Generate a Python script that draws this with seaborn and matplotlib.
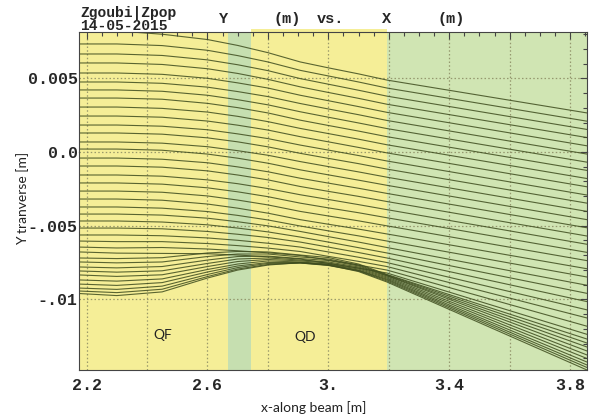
import numpy as np
import pandas as pd
import matplotlib
matplotlib.use("Agg")
import matplotlib.pyplot as plt
import matplotlib.ticker as mticker
from matplotlib.patches import Rectangle
import seaborn as sns

# ---------------- data ----------------
# stations along the beam [m]
x_stations = [2.175, 2.30, 2.45, 2.60, 2.70, 2.80, 2.907, 3.00, 3.10, 3.194, 3.856]

# regularly spaced trajectories, Y [mm] at each station
upper_traj_mm = [
    [8.21, 8.21, 7.99, 7.63, 7.23, 6.74, 6.11, 5.71, 5.30, 4.88, 2.65],
    [7.33, 7.33, 7.22, 6.90, 6.54, 6.11, 5.54, 5.16, 4.75, 4.34, 2.09],
    [6.65, 6.65, 6.55, 6.25, 5.92, 5.52, 4.98, 4.60, 4.19, 3.79, 1.53],
    [6.04, 6.04, 5.94, 5.65, 5.33, 4.93, 4.42, 4.04, 3.64, 3.24, 0.98],
    [5.36, 5.36, 5.27, 5.00, 4.69, 4.34, 3.85, 3.48, 3.08, 2.69, 0.42],
    [4.75, 4.75, 4.66, 4.40, 4.10, 3.76, 3.29, 2.92, 2.53, 2.14, -0.14],
    [4.21, 4.21, 4.12, 3.85, 3.55, 3.20, 2.73, 2.36, 1.97, 1.59, -0.69],
    [3.66, 3.66, 3.58, 3.30, 3.01, 2.65, 2.16, 1.80, 1.42, 1.04, -1.25],
    [3.05, 3.05, 2.96, 2.71, 2.42, 2.06, 1.60, 1.25, 0.87, 0.49, -1.80],
    [2.44, 2.44, 2.36, 2.10, 1.82, 1.49, 1.04, 0.69, 0.31, -0.06, -2.36],
    [1.83, 1.83, 1.75, 1.51, 1.23, 0.91, 0.47, 0.13, -0.24, -0.61, -2.92],
    [1.29, 1.29, 1.21, 0.96, 0.69, 0.35, -0.09, -0.43, -0.79, -1.16, -3.47],
    [0.68, 0.68, 0.60, 0.36, 0.09, -0.22, -0.65, -0.99, -1.35, -1.71, -4.03],
    [0.20, 0.20, 0.12, -0.14, -0.42, -0.76, -1.21, -1.55, -1.91, -2.26, -4.59],
    [-0.41, -0.41, -0.49, -0.73, -1.01, -1.34, -1.78, -2.11, -2.46, -2.81, -5.14],
    [-0.95, -0.95, -1.03, -1.28, -1.56, -1.89, -2.34, -2.67, -3.01, -3.36, -5.70],
    [-1.56, -1.56, -1.64, -1.89, -2.15, -2.48, -2.90, -3.22, -3.57, -3.91, -6.26],
    [-2.10, -2.10, -2.18, -2.43, -2.70, -3.03, -3.47, -3.79, -4.12, -4.46, -6.81],
    [-2.65, -2.65, -2.73, -2.98, -3.26, -3.59, -4.03, -4.34, -4.67, -5.01, -7.37],
    [-3.19, -3.19, -3.27, -3.53, -3.81, -4.15, -4.59, -4.90, -5.23, -5.56, -7.92],
    [-3.73, -3.73, -3.81, -4.04, -4.30, -4.61, -5.02, -5.35, -5.69, -6.04, -8.48],
    [-4.21, -4.21, -4.28, -4.49, -4.73, -5.01, -5.39, -5.74, -6.11, -6.48, -9.04],
    [-4.68, -4.68, -4.75, -4.94, -5.16, -5.42, -5.77, -6.11, -6.49, -6.85, -9.59],
    [-5.16, -5.16, -5.21, -5.39, -5.58, -5.80, -6.11, -6.45, -6.82, -7.19, -10.15],
    [-5.63, -5.63, -5.68, -5.83, -5.99, -6.19, -6.45, -6.78, -7.14, -7.50, -10.71],
    [-6.04, -6.08, -6.08, -6.21, -6.35, -6.52, -6.75, -7.08, -7.42, -7.77, -11.26],
    [-6.45, -6.51, -6.48, -6.58, -6.70, -6.84, -7.02, -7.33, -7.67, -8.01, -11.82],
    [-6.78, -6.86, -6.88, -6.90, -6.99, -7.11, -7.26, -7.56, -7.88, -8.21, -12.37],
]

# dense lower bundle (caustic), Y [mm] at each station
bundle_traj_mm = [
    [-7.19, -7.23, -7.17, -6.85, -6.75, -6.78, -6.99, -7.16, -7.60, -8.31, -12.69],
    [-7.46, -7.52, -7.46, -7.09, -6.92, -6.92, -7.12, -7.26, -7.67, -8.34, -12.96],
    [-7.80, -7.86, -7.77, -7.33, -7.09, -7.06, -7.23, -7.36, -7.73, -8.38, -13.23],
    [-8.07, -8.15, -8.06, -7.56, -7.26, -7.19, -7.33, -7.46, -7.80, -8.41, -13.50],
    [-8.34, -8.44, -8.33, -7.77, -7.43, -7.29, -7.39, -7.53, -7.87, -8.48, -13.77],
    [-8.68, -8.76, -8.61, -7.97, -7.60, -7.39, -7.46, -7.60, -7.94, -8.55, -14.01],
    [-8.96, -9.05, -8.86, -8.14, -7.73, -7.50, -7.50, -7.63, -8.01, -8.62, -14.25],
    [-9.23, -9.32, -9.10, -8.31, -7.84, -7.56, -7.53, -7.67, -8.04, -8.68, -14.45],
    [-9.43, -9.54, -9.31, -8.45, -7.94, -7.63, -7.53, -7.70, -8.07, -8.75, -14.62],
    [-9.60, -9.74, -9.49, -8.55, -8.01, -7.67, -7.50, -7.67, -8.11, -8.82, -14.79],
]

# magnet regions along the beam [m]
qf_end = 2.668
qd_start = 2.744
qd_end = 3.194
element_names = ["QF", "QD"]
element_label_x = [2.453, 2.923]
element_label_y = [-0.01242, -0.01255]

x_tick_values = [2.2, 2.4, 2.6, 2.8, 3.0, 3.2, 3.4, 3.6, 3.8]
x_tick_labels = ["2.2", "", "2.6", "", "3.", "", "3.4", "", "3.8"]
y_tick_values = [-0.01, -0.005, 0.0, 0.005]
y_tick_labels = ["-.01", "-.005", "0.0", "0.005"]

header_words = ["Y", "(m)", "vs.", "X", "(m)"]

# ---------------- styling ----------------
sns.set_style("white")
plt.rcParams["font.family"] = ["DejaVu Sans"]

YELLOW = "#f5ee97"
GREEN_BAND = "#c6dfb0"
GREEN = "#d0e5b3"
LINE = "#3e4c1e"
GRID = "#8b8b63"
MONO = "Liberation Mono"
SANS = "Lato"

xmin, xmax = 2.175, 3.856
ymin, ymax = -0.01479, 0.00814

fig = plt.figure(figsize=(5.95, 4.18), dpi=100)
ax = fig.add_axes([0.1328, 0.1148, 0.8538, 0.8086])
ax.set_facecolor(YELLOW)

# regions
ax.axvspan(xmin, qf_end, color=YELLOW, lw=0, zorder=0.2)
ax.axvspan(qf_end, qd_start, color=GREEN_BAND, lw=0, zorder=0.2)
ax.add_patch(Rectangle((qd_start, 0), qd_end - qd_start, 1.008,
                       transform=ax.get_xaxis_transform(), color=YELLOW,
                       lw=0, clip_on=False, zorder=0.2))
ax.axvspan(qd_end, xmax, color=GREEN, lw=0, zorder=0.2)

# trajectories
rows = []
for i, traj in enumerate(upper_traj_mm + bundle_traj_mm):
    for xs, ymm in zip(x_stations, traj):
        rows.append({"line": i, "x": xs, "y": ymm / 1000.0})
df = pd.DataFrame(rows)
sns.lineplot(data=df, x="x", y="y", units="line", estimator=None,
             color=LINE, linewidth=0.8, alpha=0.85, legend=False, ax=ax,
             zorder=2)

ax.set_xlim(xmin, xmax)
ax.set_ylim(ymin, ymax)

# ticks
ax.set_xticks(x_tick_values, x_tick_labels, fontfamily=MONO,
              fontweight="bold", fontsize=12)
ax.set_yticks(y_tick_values, y_tick_labels, fontfamily=MONO,
              fontweight="bold", fontsize=12)
ax.xaxis.set_minor_locator(mticker.MultipleLocator(0.05))
ax.yaxis.set_minor_locator(mticker.MultipleLocator(0.001))
ax.tick_params(which="both", direction="in", top=True, right=True,
               color="#444444", width=0.8)
ax.tick_params(which="major", length=5)
ax.tick_params(which="minor", length=3)
ax.tick_params(axis="x", pad=6)
ax.tick_params(axis="y", pad=1)

ax.set_axisbelow("line")
ax.grid(True, which="major", color=GRID, linestyle=(0, (1.2, 1.8)),
        linewidth=0.9, alpha=0.85)

for s in ax.spines.values():
    s.set_color("#444444")
    s.set_linewidth(0.8)

# zero axis with its own ticks
zero_loc = (0.0 - ymin) / (ymax - ymin)
sec = ax.secondary_xaxis(zero_loc)
sec.set_xticks(x_tick_values)
sec.xaxis.set_minor_locator(mticker.MultipleLocator(0.05))
sec.tick_params(which="both", direction="inout", labeltop=False,
                labelbottom=False, color="#555533", width=0.8)
sec.tick_params(which="major", length=6)
sec.tick_params(which="minor", length=4)
for s in sec.spines.values():
    s.set_color("#555533")
    s.set_linewidth(0.9)

ax.set_xlabel("")
ax.set_ylabel("")

# element labels
for name, lx, ly in zip(element_names, element_label_x, element_label_y):
    ax.text(lx, ly, name, ha="center", va="center", fontsize=10,
            fontfamily=SANS, color="#222222", zorder=3)

# axis labels
fig.text(0.038, 0.525, "Y tranverse [m]", rotation=90, ha="center",
         va="center", fontsize=10, fontfamily=SANS, color="#222222")
fig.text(0.528, 0.026, "x-along beam [m]", ha="center", va="center",
         fontsize=10, fontfamily=SANS, color="#222222")

# header
fig.text(0.1345, 0.968, "Zgoubi|Zpop", ha="left", va="center",
         fontsize=10.5, fontfamily=MONO, fontweight="bold")
fig.text(0.1345, 0.937, "14-05-2015", ha="left", va="center",
         fontsize=10.5, fontfamily=MONO, fontweight="bold")
for word, fx in zip(header_words, [0.375, 0.482, 0.556, 0.649, 0.759]):
    fig.text(fx, 0.954, word, ha="center", va="center", fontsize=11,
             fontfamily=MONO, fontweight="bold")

fig.savefig("out.png", dpi=100, facecolor="white")
